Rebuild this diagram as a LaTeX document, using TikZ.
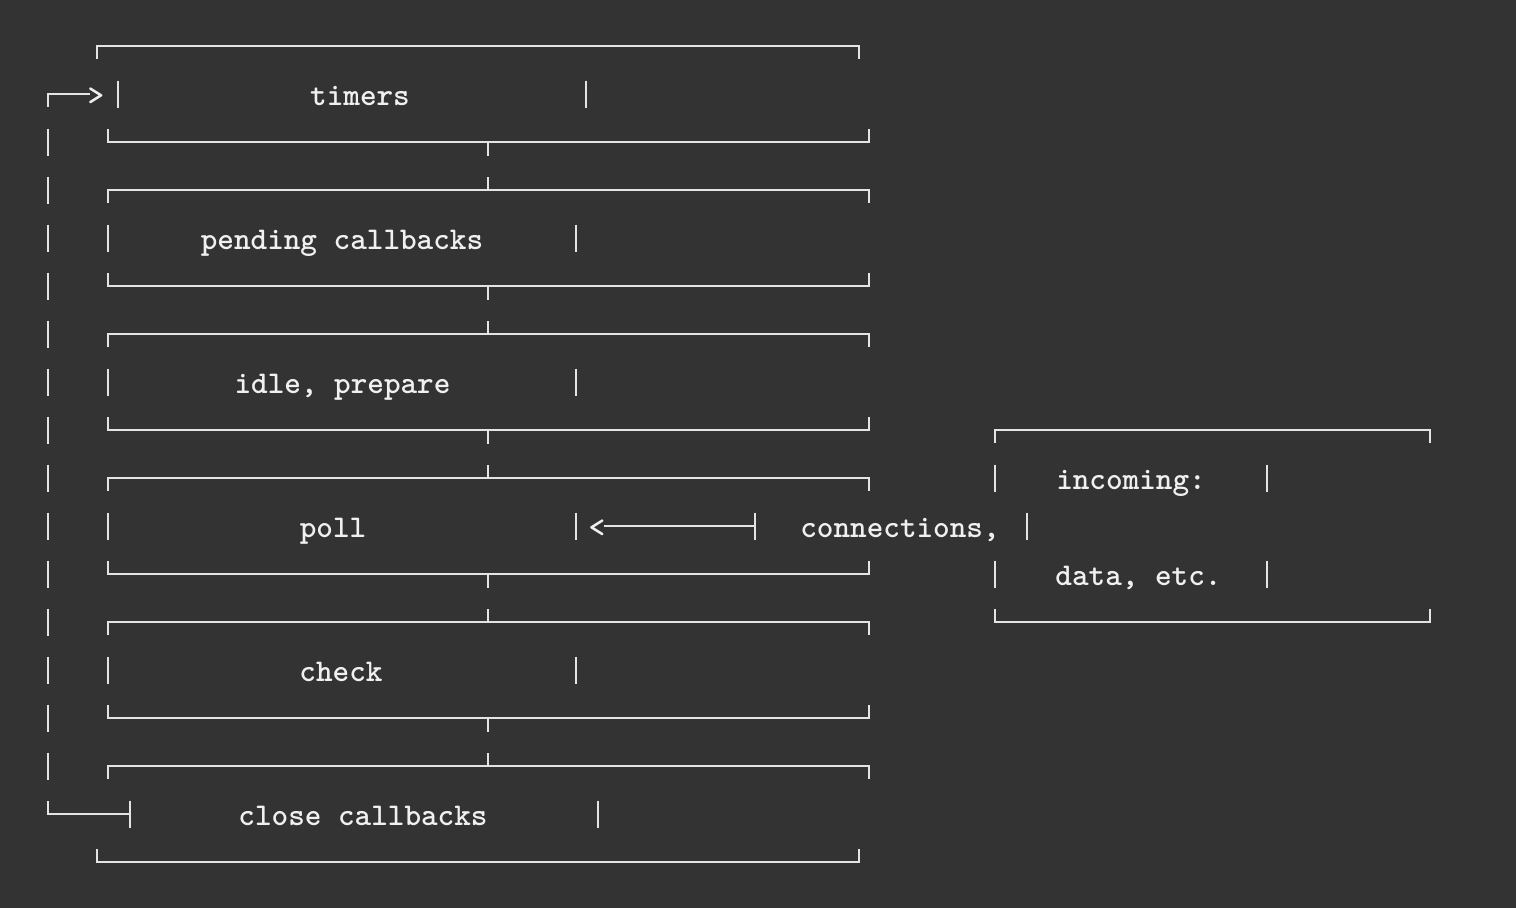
\documentclass[tikz,border=0pt]{standalone}
\usepackage{fontspec}
\usepackage{tikz}
\definecolor{bgcol}{RGB}{51,51,51}
\definecolor{inkcol}{RGB}{228,228,228}
\definecolor{textcol}{RGB}{240,240,240}

\begin{document}
\begin{tikzpicture}[x=0.1mm,y=-0.1mm,
  phase/.style={font=\ttfamily\bfseries\fontsize{9}{10}\selectfont,
    text=textcol, inner sep=0pt, anchor=base},
  rule/.style={draw=inkcol, line width=0.6pt}]
\useasboundingbox (0,0) rectangle (1516,908);
\fill[bgcol] (0,0) rectangle (1516,908);

\begin{scope}[rule]
% outer loop on the left
\draw (48,107) -- (48,94) -- (90,94);
\draw (48,128.5) -- (48,155.5);
\draw (48,176.5) -- (48,203.5);
\draw (48,224.5) -- (48,251.5);
\draw (48,272.5) -- (48,299.5);
\draw (48,320.5) -- (48,347.5);
\draw (48,368.5) -- (48,395.5);
\draw (48,416.5) -- (48,443.5);
\draw (48,464.5) -- (48,491.5);
\draw (48,512.5) -- (48,539.5);
\draw (48,560.5) -- (48,587.5);
\draw (48,608.5) -- (48,635.5);
\draw (48,656.5) -- (48,683.5);
\draw (48,704.5) -- (48,731.5);
\draw (48,752.5) -- (48,779.5);
\draw (48,801) -- (48,814) -- (130,814);
\draw (130,800.5) -- (130,827.5);

% timers
\draw (97,59) -- (97,46) -- (859,46) -- (859,59);
\draw (118,80.5) -- (118,107.5);
\draw (586,80.5) -- (586,107.5);
\draw (108,129) -- (108,142) -- (869,142) -- (869,129);
\draw (488,142) -- (488,155.5);

% pending callbacks
\draw (108,203) -- (108,190) -- (869,190) -- (869,203);
\draw (488,190) -- (488,176.5);
\draw (108,224.5) -- (108,251.5);
\draw (576,224.5) -- (576,251.5);
\draw (108,273) -- (108,286) -- (869,286) -- (869,273);
\draw (488,286) -- (488,299.5);

% idle, prepare
\draw (108,347) -- (108,334) -- (869,334) -- (869,347);
\draw (488,334) -- (488,320.5);
\draw (108,368.5) -- (108,395.5);
\draw (576,368.5) -- (576,395.5);
\draw (108,417) -- (108,430) -- (869,430) -- (869,417);
\draw (488,430) -- (488,443.5);

% poll
\draw (108,491) -- (108,478) -- (869,478) -- (869,491);
\draw (488,478) -- (488,464.5);
\draw (108,512.5) -- (108,539.5);
\draw (576,512.5) -- (576,539.5);
\draw (108,561) -- (108,574) -- (869,574) -- (869,561);
\draw (488,574) -- (488,587.5);

% check
\draw (108,635) -- (108,622) -- (869,622) -- (869,635);
\draw (488,622) -- (488,608.5);
\draw (108,656.5) -- (108,683.5);
\draw (576,656.5) -- (576,683.5);
\draw (108,705) -- (108,718) -- (869,718) -- (869,705);
\draw (488,718) -- (488,731.5);

% close callbacks
\draw (108,779) -- (108,766) -- (869,766) -- (869,779);
\draw (488,766) -- (488,752.5);
\draw (598,800.5) -- (598,827.5);
\draw (97,849) -- (97,862) -- (859,862) -- (859,849);

% incoming box
\draw (995,443) -- (995,430) -- (1430,430) -- (1430,443);
\draw (995,464.5) -- (995,491.5);
\draw (1267,464.5) -- (1267,491.5);
\draw (1027,512.5) -- (1027,539.5);
\draw (995,560.5) -- (995,587.5);
\draw (1267,560.5) -- (1267,587.5);
\draw (995,609) -- (995,622) -- (1430,622) -- (1430,609);

% connections into poll
\coordinate (pollin) at (604,526);
\coordinate (connout) at (755,526);
\draw (connout) -- (pollin);
\draw (755,512.5) -- (755,539.5);
\end{scope}

\node[phase] (loopgt) at (96,105) {>};
\node[phase] (timers) at (360,105) {timers};
\node[phase] (pending) at (342,249) {pending callbacks};
\node[phase] (idle) at (342.5,393) {idle, prepare};
\node[phase] (poll) at (333,537) {poll};
\node[phase] (pollt) at (597,537) {<};
\node[phase] (check) at (341,681) {check};
\node[phase] (close) at (363,825) {close callbacks};
\node[phase] (incoming) at (1131,489) {incoming:};
\node[phase] (conns) at (900,537) {connections,};
\node[phase] (data) at (1138.5,585) {data, etc.};
\end{tikzpicture}
\end{document}
